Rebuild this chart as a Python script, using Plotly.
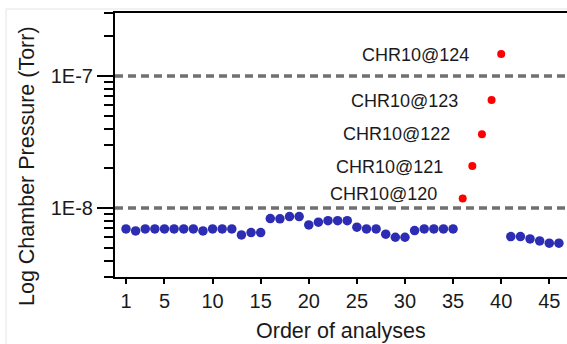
import numpy as np
import plotly.graph_objects as go

# ---- data ----
blue_x = list(range(1, 36)) + [41, 42, 43, 44, 45, 46]
blue_y = [6.94e-9, 6.70e-9, 6.94e-9, 6.94e-9, 6.94e-9, 6.94e-9, 6.94e-9, 6.94e-9, 6.70e-9, 6.94e-9,
          6.94e-9, 6.94e-9, 6.25e-9, 6.51e-9, 6.51e-9, 8.31e-9, 8.27e-9, 8.61e-9, 8.61e-9, 7.44e-9,
          7.80e-9, 8.02e-9, 8.02e-9, 8.02e-9, 7.15e-9, 6.94e-9, 6.94e-9, 6.33e-9, 6.00e-9, 6.00e-9,
          6.74e-9, 6.94e-9, 6.94e-9, 6.94e-9, 6.94e-9,
          6.07e-9, 6.07e-9, 5.83e-9, 5.63e-9, 5.41e-9, 5.41e-9]
red_x = [36, 37, 38, 39, 40]
red_y = [1.18e-8, 2.08e-8, 3.62e-8, 6.57e-8, 1.47e-7]
red_labels = ["CHR10@120", "CHR10@121", "CHR10@122", "CHR10@123", "CHR10@124"]
ref_levels = [1e-8, 1e-7]
x_tickvals = [1, 5, 10, 15, 20, 25, 30, 35, 40, 45]
y_tickvals = [1e-8, 1e-7]
y_ticktext = ["1E-8", "1E-7"]

# ---- style / placement (not data) ----
label_xshift = [-24, -27, -30, -32, -30]
label_yshift = [4, -1, 0, -1, -1]
FONT = "Arial, 'Liberation Sans', sans-serif"

W, H = 567, 344
L, R, T, B = 115, 0, 13, 67
pw, ph = W - L - R, H - T - B

fig = go.Figure()

for lv in ref_levels:
    fig.add_hline(y=lv, line=dict(color="#707070", width=3.5, dash="8px,5px"), layer="below")

fig.add_trace(go.Scatter(x=blue_x, y=blue_y, mode="markers",
                         marker=dict(color="#2d2db4", size=9.5, line=dict(width=0)),
                         showlegend=False))
fig.add_trace(go.Scatter(x=red_x, y=red_y, mode="markers",
                         marker=dict(color="#ff0000", size=8, line=dict(width=0)),
                         showlegend=False))

for xv, yv, lab, dx, dy in zip(red_x, red_y, red_labels, label_xshift, label_yshift):
    fig.add_annotation(x=xv, y=np.log10(yv), text=lab, showarrow=False,
                       xanchor="right", yanchor="middle", xshift=dx, yshift=dy,
                       font=dict(family=FONT, size=18, color="#1a1a1a"))

# axis titles as annotations
fig.add_annotation(xref="paper", yref="paper", x=(341 - L) / pw, y=(H - B - 331) / ph,
                   text="Order of analyses", showarrow=False, xanchor="center", yanchor="middle",
                   font=dict(family=FONT, size=21.5, color="#1a1a1a"))
fig.add_annotation(xref="paper", yref="paper", x=(27 - L) / pw, y=(H - B - 166) / ph,
                   text="Log Chamber Pressure (Torr)", textangle=-90, showarrow=False,
                   xanchor="center", yanchor="middle",
                   font=dict(family=FONT, size=21.5, color="#1a1a1a"))

# faint outer frame
fx = (6 - L) / pw
fy_top = (H - B - 9) / ph
fy_bot = (H - B - H) / ph
fig.add_shape(type="line", xref="paper", yref="paper", x0=fx, x1=1.0, y0=fy_top, y1=fy_top,
              line=dict(color="#e4e4e4", width=1))
fig.add_shape(type="line", xref="paper", yref="paper", x0=fx, x1=fx, y0=fy_top, y1=fy_bot,
              line=dict(color="#e4e4e4", width=1))

x0 = 1 - 11 / 9.62
x1 = x0 + pw / 9.62
minor_vals = [m * 10.0 ** e for e in (-9, -8, -7) for m in range(2, 10)
              if 3e-9 * 0.999 <= m * 10.0 ** e <= 3e-7 * 1.001]

fig.update_xaxes(range=[x0, x1], showline=True, linecolor="black", linewidth=2, mirror=True,
                 tickmode="array", tickvals=x_tickvals, ticks="outside", ticklen=5, tickwidth=1.5,
                 tickcolor="black", showgrid=False, zeroline=False,
                 tickfont=dict(family=FONT, size=20, color="#1a1a1a"))
fig.update_yaxes(type="log", range=[np.log10(3e-9), np.log10(3e-7)], showline=True,
                 linecolor="black", linewidth=2, mirror=False,
                 tickmode="array", tickvals=y_tickvals, ticktext=y_ticktext,
                 ticks="outside", ticklen=16, tickwidth=2, tickcolor="black",
                 minor=dict(tickmode="array", tickvals=minor_vals, ticks="outside",
                            ticklen=9, tickwidth=1.5, tickcolor="black", showgrid=False),
                 showgrid=False, zeroline=False,
                 tickfont=dict(family=FONT, size=20, color="#1a1a1a"))

fig.update_layout(width=W, height=H, margin=dict(l=L, r=R, t=T, b=B, pad=0),
                  paper_bgcolor="white", plot_bgcolor="white")

fig.write_html("out.html")
